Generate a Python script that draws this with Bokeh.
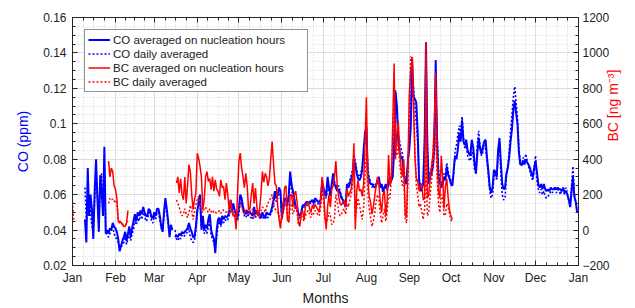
import math
from bokeh.plotting import figure
from bokeh.models import Range1d, LinearAxis, FixedTicker, Legend, LegendItem
from bokeh.embed import file_html
from bokeh.resources import INLINE

# ---------------- data ----------------
month_days = [0, 31, 59, 90, 120, 151, 181, 212, 243, 273, 304, 334, 365]
month_labels = ["Jan", "Feb", "Mar", "Apr", "May", "Jun", "Jul", "Aug",
                "Sep", "Oct", "Nov", "Dec", "Jan"]

co_ticks = [0.02, 0.04, 0.06, 0.08, 0.1, 0.12, 0.14, 0.16]
co_tick_labels = ["0.02", "0.04", "0.06", "0.08", "0.1", "0.12", "0.14", "0.16"]
bc_ticks = [-200, 0, 200, 400, 600, 800, 1000, 1200]

# CO averaged on nucleation hours (ppm); segments start at these days of year
co_nuc_starts = [9, 74]
co_nuc_vals = [
    [0.046, 0.033, 0.075, 0.048, 0.060, 0.052, 0.035, 0.062, 0.080, 0.057,
     0.039, 0.071, 0.062, 0.048, 0.087, 0.038, 0.040, 0.038, 0.041, 0.040,
     0.044, 0.042, 0.041, 0.039, 0.035, 0.028, 0.031, 0.034, 0.036, 0.039,
     0.034, 0.038, 0.042, 0.036, 0.041, 0.045, 0.049, 0.045, 0.050, 0.048,
     0.051, 0.049, 0.053, 0.050, 0.048, 0.048, 0.052, 0.051, 0.047, 0.047,
     0.050, 0.048, 0.052, 0.052, 0.048, 0.042, 0.039, 0.050, 0.058, 0.052,
     0.045, 0.036, 0.043, 0.040],
    [0.036, 0.037, 0.036, 0.038, 0.037, 0.039, 0.038, 0.039, 0.040, 0.041,
     0.044, 0.041, 0.039, 0.036, 0.036, 0.042, 0.051, 0.055, 0.060, 0.041,
     0.048, 0.040, 0.043, 0.041, 0.046, 0.049, 0.040, 0.037, 0.035, 0.027,
     0.040, 0.046, 0.047, 0.043, 0.048, 0.046, 0.048, 0.047, 0.048, 0.050,
     0.057, 0.052, 0.055, 0.051, 0.049, 0.047, 0.052, 0.060, 0.058, 0.053,
     0.050, 0.049, 0.051, 0.050, 0.050, 0.049, 0.048, 0.053, 0.049, 0.051,
     0.050, 0.049, 0.047, 0.050, 0.048, 0.047, 0.050, 0.049, 0.049, 0.050,
     0.053, 0.057, 0.062, 0.058, 0.060, 0.064, 0.062, 0.048, 0.054, 0.058,
     0.057, 0.055, 0.060, 0.073, 0.066, 0.062, 0.058, 0.053, 0.053, 0.049,
     0.048, 0.050, 0.054, 0.054, 0.055, 0.056, 0.055, 0.056, 0.056, 0.057,
     0.055, 0.058, 0.057, 0.056, 0.056, 0.057, 0.066, 0.064, 0.061, 0.059,
     0.070, 0.064, 0.060, 0.066, 0.072, 0.066, 0.064, 0.062, 0.063, 0.061,
     0.058, 0.057, 0.055, 0.053, 0.066, 0.064, 0.066, 0.069, 0.071, 0.080,
     0.077, 0.072, 0.069, 0.068, 0.070, 0.074, 0.085, 0.095, 0.098, 0.072,
     0.068, 0.066, 0.066, 0.065, 0.064, 0.065, 0.068, 0.070, 0.064, 0.066,
     0.062, 0.064, 0.066, 0.063, 0.067, 0.070, 0.068, 0.070, 0.085, 0.118,
     0.110, 0.090, 0.084, 0.081, 0.080, 0.072, 0.066, 0.068, 0.080, 0.086,
     0.098, 0.137, 0.115, 0.114, 0.112, 0.095, 0.068, 0.062, 0.063, 0.066,
     0.090, 0.146, 0.085, 0.066, 0.070, 0.072, 0.076, 0.086, 0.136, 0.090,
     0.070, 0.067, 0.064, 0.066, 0.070, 0.068, 0.076, 0.071, 0.069, 0.066,
     0.065, 0.074, 0.082, 0.080, 0.086, 0.095, 0.090, 0.102, 0.090, 0.088,
     0.091, 0.085, 0.083, 0.082, 0.091, 0.087, 0.078, 0.072, 0.083, 0.092,
     0.086, 0.083, 0.087, 0.090, 0.091, 0.081, 0.073, 0.064, 0.061, 0.064,
     0.074, 0.073, 0.070, 0.085, 0.092, 0.078, 0.066, 0.063, 0.064, 0.072,
     0.075, 0.081, 0.090, 0.097, 0.108, 0.113, 0.106, 0.100, 0.084, 0.077,
     0.077, 0.079, 0.077, 0.080, 0.078, 0.077, 0.075, 0.072, 0.070, 0.075,
     0.079, 0.073, 0.066, 0.064, 0.066, 0.063, 0.066, 0.063, 0.062, 0.063,
     0.062, 0.064, 0.063, 0.063, 0.064, 0.063, 0.064, 0.063, 0.063, 0.062,
     0.064, 0.061, 0.062, 0.060, 0.057, 0.053, 0.062, 0.070, 0.059, 0.056,
     0.050],
]

# CO daily averaged (ppm)
co_day_starts = [9, 74]
co_day_vals = [
    [0.064, 0.045, 0.060, 0.055, 0.050, 0.042, 0.040, 0.058, 0.070, 0.060,
     0.045, 0.065, 0.072, 0.055, 0.075, 0.040, 0.037, 0.036, 0.038, 0.040,
     0.042, 0.038, 0.036, 0.035, 0.033, 0.029, 0.030, 0.032, 0.033, 0.036,
     0.032, 0.035, 0.038, 0.034, 0.038, 0.040, 0.046, 0.043, 0.047, 0.045,
     0.049, 0.046, 0.050, 0.048, 0.045, 0.046, 0.049, 0.050, 0.045, 0.044,
     0.048, 0.046, 0.050, 0.050, 0.046, 0.041, 0.040, 0.048, 0.056, 0.050,
     0.043, 0.038, 0.041, 0.040],
    [0.040, 0.035, 0.034, 0.036, 0.035, 0.037, 0.036, 0.037, 0.038, 0.039,
     0.041, 0.036, 0.034, 0.033, 0.034, 0.040, 0.050, 0.058, 0.056, 0.040,
     0.043, 0.038, 0.040, 0.038, 0.042, 0.045, 0.037, 0.035, 0.033, 0.030,
     0.036, 0.043, 0.045, 0.042, 0.045, 0.044, 0.046, 0.045, 0.046, 0.048,
     0.054, 0.050, 0.053, 0.049, 0.047, 0.045, 0.049, 0.056, 0.055, 0.051,
     0.048, 0.047, 0.049, 0.048, 0.047, 0.047, 0.046, 0.050, 0.047, 0.049,
     0.048, 0.047, 0.046, 0.048, 0.047, 0.046, 0.048, 0.047, 0.048, 0.049,
     0.051, 0.055, 0.059, 0.056, 0.058, 0.061, 0.060, 0.046, 0.050, 0.055,
     0.054, 0.053, 0.057, 0.069, 0.063, 0.059, 0.056, 0.051, 0.051, 0.047,
     0.047, 0.049, 0.052, 0.053, 0.054, 0.054, 0.054, 0.055, 0.055, 0.055,
     0.054, 0.056, 0.055, 0.055, 0.054, 0.056, 0.063, 0.062, 0.059, 0.058,
     0.067, 0.062, 0.059, 0.064, 0.070, 0.067, 0.066, 0.064, 0.065, 0.062,
     0.059, 0.058, 0.056, 0.055, 0.064, 0.066, 0.068, 0.071, 0.074, 0.083,
     0.079, 0.074, 0.071, 0.070, 0.072, 0.076, 0.083, 0.090, 0.092, 0.075,
     0.070, 0.067, 0.064, 0.066, 0.065, 0.066, 0.067, 0.068, 0.065, 0.064,
     0.061, 0.063, 0.065, 0.062, 0.066, 0.068, 0.067, 0.072, 0.095, 0.119,
     0.105, 0.094, 0.090, 0.086, 0.083, 0.075, 0.068, 0.066, 0.078, 0.090,
     0.112, 0.126, 0.120, 0.110, 0.100, 0.090, 0.070, 0.064, 0.065, 0.068,
     0.090, 0.138, 0.090, 0.070, 0.072, 0.075, 0.082, 0.095, 0.120, 0.095,
     0.074, 0.070, 0.066, 0.068, 0.072, 0.070, 0.078, 0.073, 0.070, 0.068,
     0.066, 0.072, 0.085, 0.088, 0.094, 0.099, 0.092, 0.104, 0.093, 0.086,
     0.088, 0.082, 0.080, 0.079, 0.084, 0.083, 0.074, 0.072, 0.088, 0.096,
     0.087, 0.082, 0.084, 0.088, 0.086, 0.079, 0.071, 0.062, 0.058, 0.060,
     0.070, 0.072, 0.068, 0.083, 0.089, 0.072, 0.060, 0.057, 0.058, 0.070,
     0.076, 0.085, 0.096, 0.105, 0.115, 0.121, 0.112, 0.103, 0.086, 0.078,
     0.076, 0.081, 0.078, 0.083, 0.079, 0.076, 0.073, 0.070, 0.068, 0.073,
     0.082, 0.068, 0.063, 0.061, 0.063, 0.060, 0.062, 0.059, 0.058, 0.059,
     0.060, 0.062, 0.061, 0.062, 0.063, 0.061, 0.063, 0.062, 0.060, 0.063,
     0.062, 0.060, 0.064, 0.060, 0.057, 0.055, 0.065, 0.076, 0.060, 0.056,
     0.051],
]

# BC averaged on nucleation hours (ng m-3)
bc_nuc_starts = [26, 75]
bc_nuc_vals = [
    [390, 300, 350, 330, 250, 230, 180, 50, 40, 45, 30, 20, 20, 40, 110],
    [265, 300, 210, 290, 200, 171, 300, 150, 250, 370,
     330, 200, 115, 170, 210, 434, 405, 360, 300, 115,
     170, 300, 330, 275, 290, 228, 300, 220, 284, 230,
     220, 190, 284, 240, 245, 171, 265, 200, 115, 170,
     110, 77, 90, 3, 200, 387, 434, 350, 300, 240,
     320, 250, 115, 120, 200, 265, 150, 237, 133, 77,
     120, 210, 330, 270, 320, 300, 250, 290, 400, 500,
     377, 265, 250, 140, 60, 10, 90, 150, 240, 250,
     59, 45, 200, 200, 130, 200, 220, 160, 40, 20,
     100, 110, 60, 130, 150, 160, 120, 100, 140, 120,
     145, 130, 115, 100, 170, 300, 250, 90, 3, 130,
     200, 130, 230, 250, 300, 390, 246, 190, 150, 140,
     160, 165, 130, 230, 190, 210, 230, 300, 490, 3,
     220, 280, 220, 230, 190, 260, 500, 750, 300, 190,
     160, 90, 130, 190, 250, 300, 260, 160, 100, 200,
     220, 80, 170, 424, 250, 280, 600, 940, 400, 555,
     612, 450, 350, 300, 400, 87, 70, 380, 780, 900,
     977, 700, 420, 290, 280, 220, 250, 260, 170, 180,
     1060, 180, 200, 300, 360, 420, 600, 890, 420, 220,
     180, 420, 300, 120, 250, 290, 180, 110, 80, 60],
]

# BC daily averaged (ng m-3)
bc_day_starts = [0, 26, 75]
bc_day_vals = [
    [160, 45],
    [150, 180, 170, 175, 160, 170, 150, 60, 50, 45, 35, 30, 25, 40, 50],
    [170, 150, 130, 100, 80, 90, 120, 90, 70, 100,
     140, 110, 59, 100, 140, 175, 190, 150, 110, 100,
     120, 130, 110, 100, 120, 105, 95, 110, 100, 95,
     100, 110, 95, 100, 115, 105, 100, 110, 90, 100,
     105, 95, 110, 80, 100, 120, 160, 130, 110, 90,
     120, 100, 80, 110, 105, 120, 70, 100, 110, 90,
     70, 110, 130, 120, 100, 130, 150, 170, 180, 200,
     150, 120, 110, 100, 80, 40, 60, 100, 140, 160,
     90, 40, 120, 150, 90, 110, 140, 100, 30, 40,
     80, 70, 50, 80, 100, 110, 90, 70, 100, 90,
     110, 100, 85, 80, 130, 210, 180, 70, 40, 60,
     100, 80, 30, 40, 70, 200, 160, 100, 80, 90,
     110, 120, 90, 150, 130, 170, 200, 250, 340, 60,
     120, 180, 140, 100, 60, 130, 300, 450, 210, 120,
     70, 20, 50, 100, 160, 200, 170, 100, 40, 80,
     120, 50, 100, 200, 180, 300, 500, 700, 450, 420,
     500, 380, 300, 250, 280, 60, 40, 300, 700, 980,
     950, 750, 450, 250, 200, 130, 150, 100, 60, 120,
     420, 80, 100, 200, 280, 350, 450, 550, 300, 150,
     100, 200, 180, 80, 90, 150, 130, 90, 60, 40],
]


def join_segments(starts, segs):
    xs, ys = [], []
    for s, vals in zip(starts, segs):
        if xs:
            xs.append(float("nan"))
            ys.append(float("nan"))
        for i, v in enumerate(vals):
            xs.append(s + i)
            ys.append(v)
    return xs, ys


FONT = "Liberation Sans"
BLUE = "#0000ff"
RED = "#ff0000"
AX = "#262626"

p = figure(width=635, height=308, output_backend="svg", toolbar_location=None,
           x_range=Range1d(0, 365), y_range=Range1d(0.02, 0.16),
           min_border_left=72, min_border_right=57, min_border_top=17,
           min_border_bottom=42, x_axis_label="Months", y_axis_label="CO (ppm)")
p.extra_y_ranges = {"bc": Range1d(-200, 1200)}
p.outline_line_color = AX
p.background_fill_color = "white"
p.border_fill_color = "white"

# tickers
x_minor = []
for a, b in zip(month_days[:-1], month_days[1:]):
    for k in (1, 2, 3):
        x_minor.append(a + (b - a) * k / 4)
x_ticker = FixedTicker(ticks=month_days, minor_ticks=x_minor)
co_minor = [0.02 + 0.005 * i for i in range(29)]
co_ticker = FixedTicker(ticks=co_ticks, minor_ticks=co_minor)
bc_minor = [-200 + 50 * i for i in range(29)]
bc_ticker = FixedTicker(ticks=bc_ticks, minor_ticks=bc_minor)


def style_axis(ax):
    ax.axis_line_color = AX
    ax.major_tick_line_color = AX
    ax.minor_tick_line_color = AX
    ax.major_tick_in = 5
    ax.major_tick_out = 0
    ax.minor_tick_in = 3
    ax.minor_tick_out = 0
    ax.major_label_text_font = FONT
    ax.major_label_text_font_size = "12px"
    ax.major_label_text_color = "#222222"
    ax.axis_label_text_font = FONT
    ax.axis_label_text_font_size = "14px"
    ax.axis_label_text_font_style = "normal"


xa = p.xaxis[0]
xa.ticker = x_ticker
xa.major_label_overrides = {d: l for d, l in zip(month_days, month_labels)}
style_axis(xa)
xa.major_label_standoff = 5
xa.axis_label_standoff = 2
xa.axis_label_text_color = "#222222"

ya = p.yaxis[0]
ya.ticker = co_ticker
ya.major_label_overrides = {t: l for t, l in zip(co_ticks, co_tick_labels)}
style_axis(ya)
ya.major_label_standoff = 6
ya.axis_label_standoff = 9
ya.axis_label_text_color = BLUE

ra = LinearAxis(y_range_name="bc", ticker=bc_ticker, axis_label="BC [ng m\u207b\u00b3]")
style_axis(ra)
ra.major_label_standoff = 4
ra.axis_label_standoff = 0
ra.axis_label_text_color = RED
try:
    ra.axis_label_orientation = math.pi / 2
except Exception:
    pass
p.add_layout(ra, "right")

ta = LinearAxis(ticker=x_ticker)
style_axis(ta)
ta.major_label_overrides = {d: "" for d in month_days}
ta.major_label_standoff = 0
p.add_layout(ta, "above")

# grids
for g in (p.xgrid[0], p.ygrid[0]):
    g.grid_line_color = "#dedede"
    g.grid_line_width = 1
    g.minor_grid_line_color = "#d4d4d4"
    g.minor_grid_line_dash = "1 2"
p.xgrid[0].ticker = x_ticker
p.ygrid[0].ticker = co_ticker

# lines
cx, cy = join_segments(co_nuc_starts, co_nuc_vals)
r1 = p.line(cx, cy, line_color=BLUE, line_width=2)
dx, dy = join_segments(co_day_starts, co_day_vals)
r2 = p.line(dx, dy, line_color=BLUE, line_width=1.6, line_dash="2 2")
bx, by = join_segments(bc_nuc_starts, bc_nuc_vals)
r3 = p.line(bx, by, line_color=RED, line_width=1.5, y_range_name="bc")
ex, ey = join_segments(bc_day_starts, bc_day_vals)
r4 = p.line(ex, ey, line_color=RED, line_width=1.5, line_dash="2 2", y_range_name="bc")

legend = Legend(items=[
    LegendItem(label="CO averaged on nucleation hours", renderers=[r1]),
    LegendItem(label="CO daily averaged", renderers=[r2]),
    LegendItem(label="BC averaged on nucleation hours", renderers=[r3]),
    LegendItem(label="BC daily averaged", renderers=[r4]),
], location="top_left")
legend.margin = 12
legend.padding = 3
legend.spacing = 1
legend.glyph_width = 22
legend.glyph_height = 13
legend.label_height = 13
legend.label_standoff = 3
legend.label_width = 191
legend.label_text_font = FONT
legend.label_text_font_size = "11.5px"
legend.label_text_color = "#222222"
legend.border_line_color = AX
legend.border_line_width = 1
legend.background_fill_alpha = 1.0
p.add_layout(legend)

open("out.html", "w").write(file_html(p, INLINE))
